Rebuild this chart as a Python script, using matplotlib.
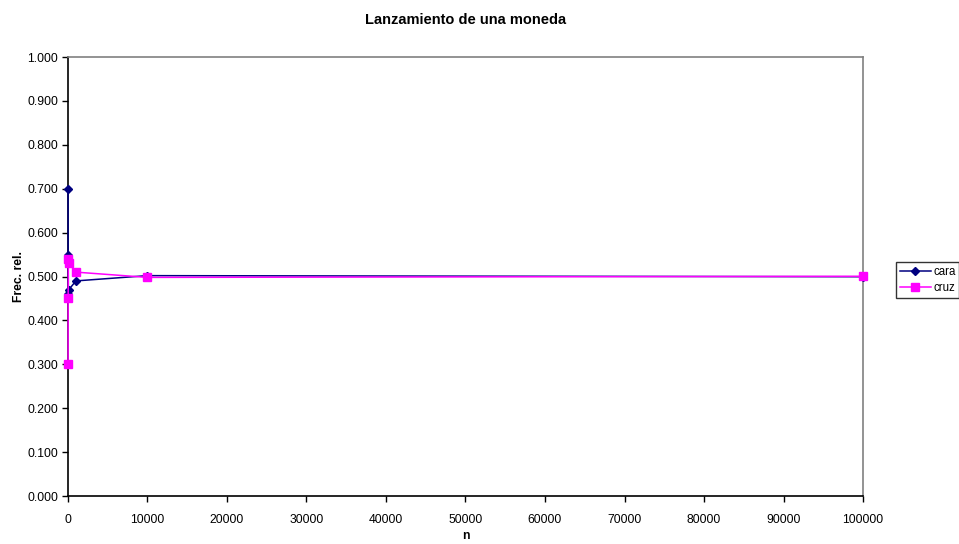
import matplotlib
matplotlib.use("Agg")
import matplotlib.pyplot as plt
import numpy as np

plt.rcParams["font.family"] = ["Liberation Sans", "DejaVu Sans"]

n = [10, 20, 50, 100, 1000, 10000, 100000]
cara = [0.700, 0.550, 0.460, 0.470, 0.490, 0.502, 0.4995]
cruz = [0.300, 0.450, 0.540, 0.530, 0.510, 0.498, 0.5005]

fig = plt.figure(figsize=(9.59, 5.44), dpi=100)
ax = fig.add_axes([0.0709, 0.0882, 0.829, 0.807])

ax.plot(n, cara, color="#000080", lw=1.1, marker="D", ms=4.5, label="cara",
        clip_on=False, zorder=3)
ax.plot(n, cruz, color="#FF00FF", lw=1.1, marker="s", ms=6, label="cruz",
        clip_on=False, zorder=3)

ax.set_xlim(0, 100000)
ax.set_ylim(0, 1.0)
ax.set_xticks(np.arange(0, 100001, 10000))
ax.set_yticks(np.arange(0, 1.01, 0.1))
ax.set_yticklabels([f"{v:.3f}" for v in np.arange(0, 1.01, 0.1)])
ax.tick_params(labelsize=8.7, length=4, width=1, direction="out", colors="black")
ax.tick_params(axis="x", pad=9)
ax.tick_params(axis="y", pad=3)

for side in ("top", "right"):
    ax.spines[side].set_color("#808080")
    ax.spines[side].set_linewidth(1.2)
for side in ("left", "bottom"):
    ax.spines[side].set_color("black")
    ax.spines[side].set_linewidth(1.2)

ax.set_title("Lanzamiento de una moneda", fontsize=10.5, fontweight="bold", pad=24)
ax.set_xlabel("n", fontsize=8.7, fontweight="bold", labelpad=3)
ax.set_ylabel("Frec. rel.", fontsize=8.7, fontweight="bold", labelpad=2)

leg = ax.legend(loc="center left", bbox_to_anchor=(1.041, 0.493), fontsize=8.3,
                frameon=True, fancybox=False, edgecolor="black",
                handlelength=2.7, handletextpad=0.2, borderpad=0.35,
                labelspacing=0.35, borderaxespad=0)
leg.get_frame().set_linewidth(1)

fig.savefig("out.png", dpi=100)
